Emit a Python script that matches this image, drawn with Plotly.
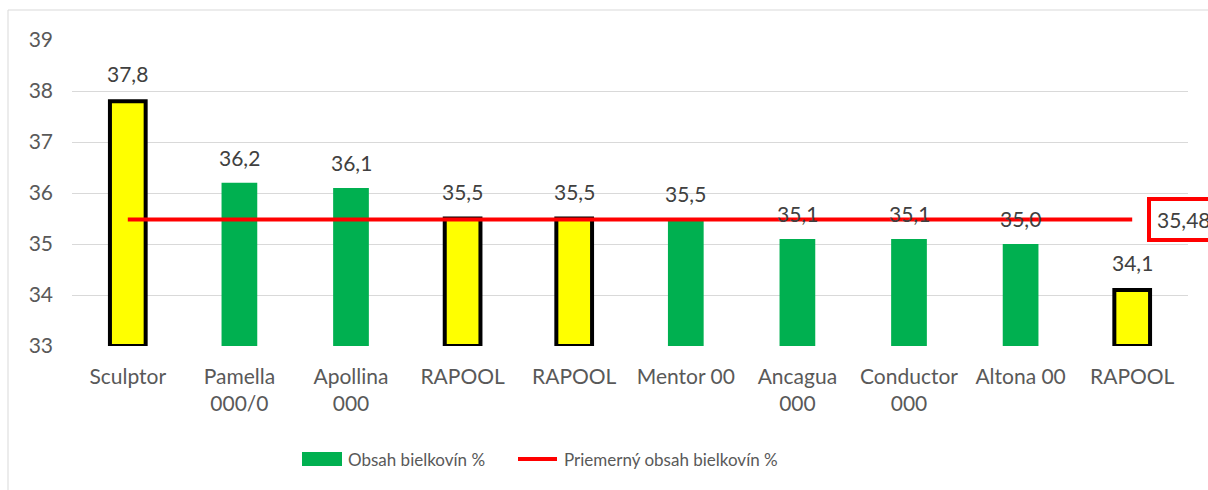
import plotly.graph_objects as go

categories = ["Sculptor", "Pamella<br>000/0", "Apollina<br>000", "RAPOOL", "RAPOOL",
              "Mentor 00", "Ancagua<br>000", "Conductor<br>000", "Altona 00", "RAPOOL"]
protein = [37.8, 36.2, 36.1, 35.5, 35.5, 35.5, 35.1, 35.1, 35.0, 34.1]
highlight = [True, False, False, True, True, False, False, False, False, True]
average = 35.48
y_ticks = [33, 34, 35, 36, 37, 38, 39]

series_bar = "Obsah bielkovín %"
series_line = "Priemerný obsah bielkovín %"

W, H = 1208, 490
L, R, T, B = 72, 20, 40, 144
pw, ph = W - L - R, H - T - B

def px_x(x):
    return (x - L) / pw

def px_y(y):
    return (H - B - y) / ph

FONT = "Lato"
GRAY = "#595959"
GREEN = "#00B050"
YELLOW = "#FFFF00"
RED = "#FF0000"

xpos = list(range(len(categories)))
colors = [YELLOW if h else GREEN for h in highlight]
lw = [4 if h else 0 for h in highlight]

fig = go.Figure()
fig.add_trace(go.Bar(
    x=xpos, y=[v - 33 for v in protein], base=33,
    marker=dict(color=colors, line=dict(color="black", width=lw)),
    width=0.32, showlegend=False, hoverinfo="skip",
))
fig.add_trace(go.Scatter(
    x=xpos, y=[average] * len(xpos), mode="lines",
    line=dict(color=RED, width=4), showlegend=False, hoverinfo="skip",
))

annotations = []
for i, v in enumerate(protein):
    annotations.append(dict(
        x=i, y=v, xref="x", yref="y", text=f"{v:.1f}".replace(".", ","),
        showarrow=False, yanchor="bottom", yshift=11 + (2 if highlight[i] else 0),
        font=dict(family=FONT, size=21, color="#404040"),
    ))
annotations.append(dict(
    x=len(xpos) - 1, y=average, xref="x", yref="y",
    text=f"{average:.2f}".replace(".", ","), showarrow=False,
    xanchor="left", xshift=15, yanchor="middle",
    font=dict(family=FONT, size=21, color="#404040"),
    bordercolor=RED, borderwidth=4, borderpad=6, bgcolor="white",
))
# legend texts
annotations.append(dict(x=px_x(346), y=px_y(459), xref="paper", yref="paper",
                        text=series_bar, showarrow=False, xanchor="left", yanchor="middle",
                        font=dict(family=FONT, size=17, color=GRAY)))
annotations.append(dict(x=px_x(562), y=px_y(459), xref="paper", yref="paper",
                        text=series_line, showarrow=False, xanchor="left", yanchor="middle",
                        font=dict(family=FONT, size=17, color=GRAY)))

shapes = [
    dict(type="rect", xref="paper", yref="paper",
         x0=px_x(8), x1=px_x(1230), y0=px_y(10), y1=px_y(520),
         line=dict(color="#d9d9d9", width=1), fillcolor="rgba(0,0,0,0)", layer="below"),
    dict(type="rect", xref="paper", yref="paper",
         x0=px_x(302), x1=px_x(342), y0=px_y(466), y1=px_y(452),
         line=dict(width=0), fillcolor=GREEN),
    dict(type="line", xref="paper", yref="paper",
         x0=px_x(518), x1=px_x(557), y0=px_y(459), y1=px_y(459),
         line=dict(color=RED, width=4)),
]

fig.update_layout(
    width=W, height=H,
    margin=dict(l=L, r=R, t=T, b=B, autoexpand=False),
    paper_bgcolor="white", plot_bgcolor="white",
    font=dict(family=FONT, size=21, color=GRAY),
    showlegend=False,
    annotations=annotations,
    shapes=shapes,
    xaxis=dict(
        tickmode="array", tickvals=xpos, ticktext=categories,
        range=[-0.5, len(xpos) - 0.5], showgrid=False, zeroline=False,
        showline=False, ticks="", tickfont=dict(family=FONT, size=21, color=GRAY),
        ticklabelstandoff=16,
    ),
    yaxis=dict(
        range=[33, 39], tickvals=y_ticks, showgrid=True, gridcolor="#d9d9d9",
        gridwidth=1, zeroline=False, showline=False, ticks="",
        tickfont=dict(family=FONT, size=21, color=GRAY),
        ticklabelstandoff=18,
    ),
)

fig.write_html("out.html", config={"displayModeBar": False},
               post_script="document.body.style.margin='0px';document.body.style.overflow='hidden';")
